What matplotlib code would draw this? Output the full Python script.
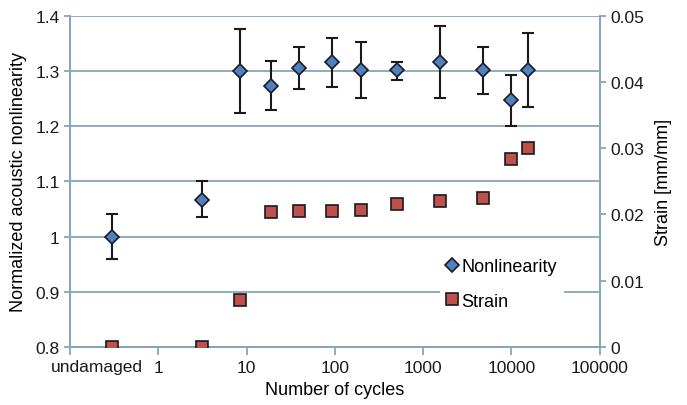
import numpy as np
import matplotlib.pyplot as plt
from matplotlib.ticker import FixedLocator, NullLocator, FuncFormatter
from matplotlib.lines import Line2D
import matplotlib.transforms as mtransforms

plt.rcParams['font.family'] = ['Liberation Sans', 'DejaVu Sans']

# data ("undamaged" plotted at 0.3 on the log axis)
cycles = [0.3, 3.1, 8.5, 19, 39, 92, 195, 510, 1550, 4700, 9800, 15500]
nonlin = [1.000, 1.067, 1.300, 1.272, 1.306, 1.316, 1.301, 1.301, 1.316, 1.301, 1.247, 1.301]
nonlin_hi = [1.040, 1.100, 1.376, 1.318, 1.344, 1.360, 1.352, 1.316, 1.382, 1.344, 1.292, 1.368]
nonlin_lo = [0.959, 1.035, 1.223, 1.229, 1.268, 1.271, 1.251, 1.283, 1.250, 1.258, 1.201, 1.235]
strain = [0.0, 0.0, 0.0071, 0.0204, 0.0205, 0.0205, 0.0207, 0.0216, 0.0221, 0.0225, 0.0284, 0.0300]

xticks = [1, 10, 100, 1000, 10000, 100000]
xticklabels = ['1', '10', '100', '1000', '10000', '100000']

grid_col = '#86a6b8'
blue = '#4f81bd'
red = '#c0504d'

fig = plt.figure(figsize=(6.87, 4.06), dpi=100)
ax = fig.add_axes([0.102, 0.143, 0.771, 0.816])
ax2 = ax.twinx()

err = [np.array(nonlin) - np.array(nonlin_lo), np.array(nonlin_hi) - np.array(nonlin)]
ax.errorbar(cycles, nonlin, yerr=err, fmt='none', ecolor='#1a1a1a', elinewidth=1.5,
            capsize=4, capthick=1.5, zorder=3)
ax.plot(cycles, nonlin, linestyle='none', marker='D', markersize=7.5,
        markerfacecolor=blue, markeredgecolor='#1a1a2a', markeredgewidth=1.2, zorder=4)
ax2.plot(cycles, strain, linestyle='none', marker='s', markersize=8.5,
         markerfacecolor=red, markeredgecolor='#1a1a1a', markeredgewidth=1.2, zorder=4)

ax.set_xscale('log')
ax.set_xlim(0.1, 100000)
ax.set_ylim(0.8, 1.4)
ax2.set_ylim(0, 0.05)

ax.xaxis.set_major_locator(FixedLocator([0.1] + xticks))
ax.set_xticklabels([''] + xticklabels)
ax.xaxis.set_minor_locator(NullLocator())
ax.set_yticks(np.arange(0.8, 1.41, 0.1))
ax.yaxis.set_major_formatter(FuncFormatter(lambda v, p: '%g' % round(v, 2)))
ax2.set_yticks(np.arange(0, 0.051, 0.01))
ax2.yaxis.set_major_formatter(FuncFormatter(lambda v, p: '%g' % round(v, 3)))

ax.grid(axis='y', color=grid_col, linewidth=1.3, zorder=0)
ax.set_axisbelow(True)

for a in (ax, ax2):
    for s in a.spines.values():
        s.set_color(grid_col)
        s.set_linewidth(1.3)
    a.spines['top'].set_visible(False)
    a.tick_params(colors=grid_col, labelcolor='#1a1a1a', labelsize=12.5, width=1.3, length=4)
ax.tick_params(axis='x', length=6)

trans = mtransforms.blended_transform_factory(ax.transData, ax.transAxes)
ax.text(0.2, -0.035, 'undamaged', transform=trans, ha='center', va='top', fontsize=12.5,
        color='#1a1a1a')

ax.set_xlabel('Number of cycles', fontsize=13, labelpad=4)
ax.set_ylabel('Normalized acoustic nonlinearity', fontsize=13, labelpad=6)
ax2.set_ylabel('Strain [mm/mm]', fontsize=13, labelpad=8)

handles = [Line2D([], [], linestyle='none', marker='D', markersize=7, markerfacecolor=blue,
                  markeredgecolor='#1a1a2a', markeredgewidth=1.2),
           Line2D([], [], linestyle='none', marker='s', markersize=8, markerfacecolor=red,
                  markeredgecolor='#1a1a1a', markeredgewidth=1.2)]
leg = ax2.legend(handles, ['Nonlinearity', 'Strain'], loc='center right',
                 bbox_to_anchor=(0.95, 0.19), fontsize=13, frameon=True, framealpha=1,
                 edgecolor='none', facecolor='white', handlelength=0.6, handletextpad=0.2,
                 labelspacing=0.95, borderpad=0.4)

fig.savefig('out.png', dpi=100)
